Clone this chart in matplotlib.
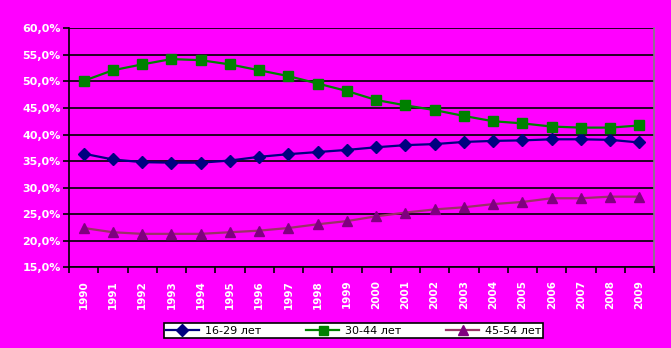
import matplotlib
matplotlib.use("Agg")
import matplotlib.pyplot as plt
from matplotlib.ticker import FuncFormatter, MultipleLocator

years = [str(y) for y in range(1990, 2010)]
age_16_29 = [36.4, 35.3, 34.8, 34.7, 34.7, 35.1, 35.8, 36.3, 36.7, 37.1,
             37.6, 38.0, 38.2, 38.6, 38.8, 38.9, 39.1, 39.1, 39.0, 38.5]
age_30_44 = [50.1, 52.1, 53.2, 54.2, 54.0, 53.2, 52.1, 51.0, 49.6, 48.2,
             46.5, 45.5, 44.6, 43.5, 42.5, 42.1, 41.5, 41.3, 41.3, 41.7]
age_45_54 = [22.4, 21.6, 21.3, 21.3, 21.3, 21.6, 21.9, 22.4, 23.1, 23.7,
             24.6, 25.3, 25.9, 26.3, 26.9, 27.3, 28.0, 28.0, 28.3, 28.3]
labels = ["16-29 лет", "30-44 лет", "45-54 лет"]

bg = "#FF00FF"
fig = plt.figure(figsize=(6.71, 3.48), dpi=100, facecolor=bg)
ax = fig.add_axes([69/671, 1-267.3/348, (654-69)/671, (267.3-28.3)/348])
ax.set_facecolor(bg)

x = list(range(len(years)))
ax.plot(x, age_16_29, color="#000080", lw=1.6, marker="D", ms=6.5,
        mfc="#000080", mec="#000080", label=labels[0], zorder=4)
ax.plot(x, age_30_44, color="#008000", lw=1.6, marker="s", ms=7.2,
        mfc="#008000", mec="#008000", label=labels[1], zorder=4)
ax.plot(x, age_45_54, color="#993366", lw=1.6, marker="^", ms=7.5,
        mfc="#800080", mec="#800080", label=labels[2], zorder=4)

ax.set_xlim(-0.5, len(years) - 0.5)
ax.set_ylim(15, 60)
ax.yaxis.set_major_locator(MultipleLocator(5))
ax.yaxis.set_major_formatter(FuncFormatter(lambda v, p: f"{v:.1f}%".replace(".", ",")))
ax.grid(axis="y", color="black", lw=1.2, zorder=1)
ax.set_axisbelow(True)

ax.set_xticks(x)
ax.set_xticklabels(years, rotation=90, fontsize=7.5, fontweight="bold", color="white")
ax.set_xticks([i + 0.5 for i in range(-1, len(years))], minor=True)
ax.tick_params(axis="x", which="major", length=0, pad=9)
ax.tick_params(axis="x", which="minor", length=4, width=1.2, color="black")
ax.tick_params(axis="y", length=4, width=1.2, color="black", labelsize=8,
               labelcolor="white", pad=2)
for t in ax.get_yticklabels():
    t.set_fontweight("bold")

for s in ["left", "bottom"]:
    ax.spines[s].set_color("black")
    ax.spines[s].set_linewidth(1.2)
ax.spines["top"].set_visible(False)
ax.spines["right"].set_color("#808080")
ax.spines["right"].set_linewidth(1.2)

leg = fig.legend(loc="center", ncol=3, fontsize=8,
                 bbox_to_anchor=(158/671, 1-339.3/348, 391/671, 17.6/348),
                 mode="expand", frameon=True, fancybox=False,
                 borderpad=0.2, handlelength=3, columnspacing=1.5,
                 handletextpad=0.5, markerscale=0.9)
leg.get_frame().set_edgecolor("black")
leg.get_frame().set_facecolor("white")
leg.get_frame().set_linewidth(1.2)
leg.get_frame().set_alpha(1)

fig.savefig("out.png", dpi=100, facecolor=bg)
